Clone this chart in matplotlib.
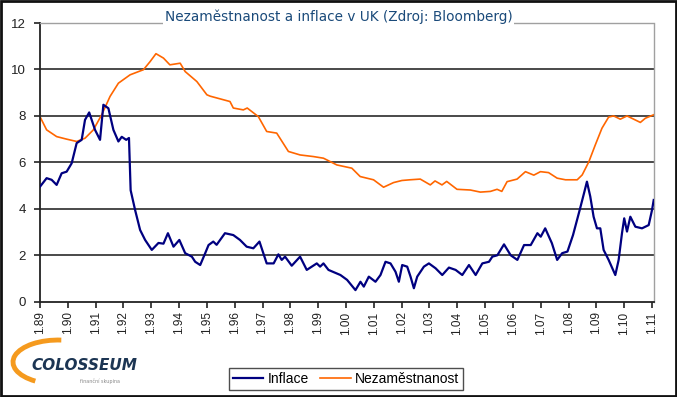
import numpy as np
import matplotlib
matplotlib.use("Agg")
import matplotlib.pyplot as plt
from matplotlib.patches import Rectangle, Arc

# --- data --------------------------------------------------------------------
infl_t = [1989.0, 1989.24, 1989.42, 1989.6, 1989.78, 1989.96, 1990.14, 1990.32,
          1990.5, 1990.62, 1990.77, 1990.98, 1991.16, 1991.28, 1991.46, 1991.64,
          1991.82, 1991.94, 1992.1, 1992.2, 1992.26, 1992.42, 1992.6, 1992.78,
          1993.02, 1993.26, 1993.44, 1993.6, 1993.8, 1994.01, 1994.22, 1994.46,
          1994.58, 1994.76, 1994.94, 1995.06, 1995.23, 1995.35, 1995.65, 1995.95,
          1996.19, 1996.43, 1996.67, 1996.89, 1997.15, 1997.4, 1997.57, 1997.69,
          1997.81, 1998.05, 1998.35, 1998.59, 1998.95, 1999.07, 1999.19, 1999.37,
          1999.8, 2000.04, 2000.34, 2000.52, 2000.64, 2000.82, 2001.06, 2001.24,
          2001.42, 2001.6, 2001.78, 2001.9, 2002.02, 2002.2, 2002.32, 2002.44,
          2002.56, 2002.8, 2002.98, 2003.22, 2003.46, 2003.7, 2003.94, 2004.18,
          2004.42, 2004.66, 2004.9, 2005.14, 2005.26, 2005.44, 2005.68, 2005.92,
          2006.16, 2006.4, 2006.64, 2006.88, 2007.0, 2007.16, 2007.4, 2007.59,
          2007.77, 2007.96, 2008.16, 2008.4, 2008.57, 2008.66, 2008.78, 2008.9,
          2009.02, 2009.14, 2009.26, 2009.44, 2009.68, 2009.8, 2009.92, 2010.0,
          2010.1, 2010.22, 2010.4, 2010.64, 2010.88, 2011.0, 2011.06]
infl_v = [4.95, 5.32, 5.25, 5.03, 5.53, 5.6, 5.96, 6.83,
          6.97, 7.83, 8.15, 7.4, 6.97, 8.48, 8.33, 7.4,
          6.9, 7.1, 6.97, 7.05, 4.8, 3.95, 3.09, 2.66,
          2.23, 2.53, 2.5, 2.95, 2.37, 2.66, 2.09, 1.94,
          1.72, 1.58, 2.09, 2.44, 2.59, 2.45, 2.95, 2.87,
          2.66, 2.37, 2.3, 2.59, 1.65, 1.65, 2.04, 1.8,
          1.94, 1.55, 1.94, 1.37, 1.65, 1.51, 1.65, 1.37,
          1.15, 0.94, 0.5, 0.86, 0.65, 1.08, 0.86, 1.15,
          1.72, 1.65, 1.29, 0.86, 1.58, 1.51, 1.08, 0.58,
          1.08, 1.51, 1.65, 1.44, 1.15, 1.47, 1.37, 1.15,
          1.58, 1.15, 1.65, 1.72, 1.94, 2.0, 2.47, 2.0,
          1.8, 2.44, 2.44, 2.95, 2.8, 3.16, 2.52, 1.8,
          2.09, 2.16, 2.87, 3.95, 4.74, 5.17, 4.53, 3.66,
          3.16, 3.16, 2.23, 1.8, 1.15, 1.8, 2.95, 3.59,
          3.02, 3.66, 3.23, 3.16, 3.3, 3.95, 4.38]

unemp_t = [1989.0, 1989.24, 1989.6, 1989.96, 1990.32, 1990.62, 1990.92, 1991.22,
           1991.52, 1991.82, 1992.24, 1992.72, 1992.96, 1993.17, 1993.44, 1993.67,
           1994.04, 1994.22, 1994.64, 1995.0, 1995.12, 1995.83, 1995.95, 1996.31,
           1996.45, 1996.85, 1997.15, 1997.51, 1997.93, 1998.35, 1998.83, 1999.19,
           1999.67, 2000.21, 2000.51, 2000.99, 2001.35, 2001.71, 2002.01, 2002.3,
           2002.67, 2003.03, 2003.2, 2003.45, 2003.62, 2003.99, 2004.47, 2004.83,
           2005.19, 2005.43, 2005.6, 2005.79, 2006.15, 2006.45, 2006.75, 2006.99,
           2007.28, 2007.59, 2007.89, 2008.31, 2008.49, 2008.73, 2008.96, 2009.2,
           2009.44, 2009.62, 2009.86, 2010.1, 2010.34, 2010.58, 2010.76, 2011.06]
unemp_v = [7.97, 7.4, 7.11, 7.0, 6.9, 7.04, 7.4, 8.05,
           8.84, 9.41, 9.77, 9.99, 10.34, 10.68, 10.49, 10.2,
           10.27, 9.91, 9.48, 8.91, 8.85, 8.62, 8.34, 8.26,
           8.34, 7.97, 7.33, 7.26, 6.47, 6.32, 6.25, 6.18,
           5.89, 5.75, 5.39, 5.25, 4.93, 5.13, 5.22, 5.25,
           5.28, 5.03, 5.2, 5.03, 5.18, 4.84, 4.81, 4.72,
           4.75, 4.84, 4.75, 5.17, 5.28, 5.6, 5.45, 5.6,
           5.56, 5.32, 5.25, 5.25, 5.46, 6.03, 6.75, 7.47,
           7.95, 8.0, 7.86, 8.0, 7.86, 7.72, 7.9, 8.05]

years = list(range(1989, 2012))
year_labels = ["1.%02d" % (y % 100) for y in years]
y_ticks = [0, 2, 4, 6, 8, 10, 12]

title = "Nezaměstnanost a inflace v UK (Zdroj: Bloomberg)"

# --- figure ------------------------------------------------------------------
NAVY = "#000080"
ORANGE = "#ff6600"
TXT = "#222222"

fig = plt.figure(figsize=(6.77, 3.97), dpi=100)
fig.patch.set_facecolor("white")
ax = fig.add_axes([0.059, 0.240, 0.907, 0.702])

for yv in y_ticks[1:-1]:
    ax.axhline(yv, color="#3a3a3a", lw=1.3, zorder=1)

ax.plot(infl_t, infl_v, color=NAVY, lw=1.6, label="Inflace", zorder=3)
ax.plot(unemp_t, unemp_v, color=ORANGE, lw=1.2, label="Nezaměstnanost", zorder=2)

ax.set_xlim(1989, 2011.07)
ax.set_ylim(0, 12)
ax.set_yticks(y_ticks)
ax.set_yticklabels([str(v) for v in y_ticks], fontsize=9.5, color=TXT,
                   family="Liberation Sans")
ax.set_xticks(years)
ax.set_xticklabels(year_labels, rotation=90, fontsize=8.5, color=TXT,
                   family="Liberation Sans")
ax.tick_params(axis="both", direction="out", length=4, width=1.2, color="#222222")
ax.tick_params(axis="y", pad=6)
ax.tick_params(axis="x", pad=3)

ax.spines["left"].set_color("#222222")
ax.spines["left"].set_linewidth(1.3)
ax.spines["bottom"].set_color("#222222")
ax.spines["bottom"].set_linewidth(1.3)
for s in ("top", "right"):
    ax.spines[s].set_color("#a0a0a0")
    ax.spines[s].set_linestyle((0, (2, 1)))
    ax.spines[s].set_linewidth(1.0)

fig.text(0.5, 0.957, title, ha="center", va="center", fontsize=9.8,
         color="#1a4a7a", family="DejaVu Sans",
         bbox=dict(facecolor="white", edgecolor="none", pad=1.5))

leg = fig.legend(loc="center", bbox_to_anchor=(0.511, 0.045), ncol=2,
                 frameon=True, fancybox=False,
                 prop={"family": "Liberation Sans", "size": 10},
                 handlelength=2.2, handletextpad=0.3, columnspacing=0.8,
                 borderpad=0.3)
leg.get_frame().set_edgecolor("#222222")
leg.get_frame().set_linewidth(1.0)

# logo
fig.patches.append(Arc((0.0857, 0.088), 0.133, 0.111, theta1=85, theta2=235,
                       transform=fig.transFigure, color="#f59a1e", lw=3.5,
                       zorder=0))
fig.text(0.047, 0.080, "COLOSSEUM", fontsize=11, fontweight="bold",
         fontstyle="italic", color="#1c3553", family="DejaVu Sans",
         va="center", ha="left")
fig.text(0.118, 0.040, "finanční skupina", fontsize=3.5, color="#888888",
         va="center", ha="left")

# outer frame
fig.patches.append(Rectangle((0.002, 0.003), 0.996, 0.994, transform=fig.transFigure,
                             fill=False, edgecolor="#111111", lw=2))

fig.savefig("out.png", dpi=100, facecolor=fig.get_facecolor())
